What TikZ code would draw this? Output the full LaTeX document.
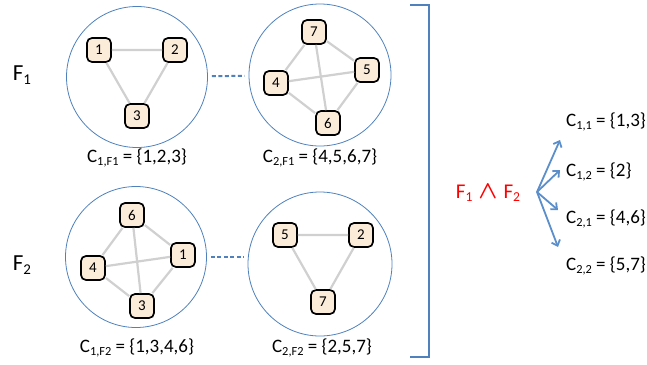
\documentclass[tikz,border=0pt]{standalone}
\usepackage{fontspec}
\usepackage{amsmath}
\setmainfont{Carlito}
\usetikzlibrary{arrows.meta}
\definecolor{ringblue}{HTML}{4F81BD}
\definecolor{arrowblue}{HTML}{5B8FCB}
\definecolor{vertfill}{HTML}{FBEBD9}
\definecolor{tiegray}{HTML}{D0D0D0}
\newcommand\csub[1]{\raisebox{-0.35ex}{\scalebox{0.65}{#1}}}

\begin{document}
\begin{tikzpicture}[x=1pt,y=-1pt,
  vert/.style={draw=black, line width=1.7pt, fill=vertfill, rounded corners=5pt,
    minimum size=24pt, inner sep=0pt, font=\fontsize{15}{15}\selectfont},
  ring/.style={draw=ringblue, line width=0.8pt, circle, minimum size=#1, inner sep=0pt},
  tie/.style={draw=tiegray, line width=2.2pt},
  link/.style={draw=ringblue, line width=2pt, dash pattern=on 4pt off 2.5pt, shorten <=4pt, shorten >=4pt},
  lbl/.style={font=\fontsize{19}{19}\selectfont, inner sep=0pt},
  fam/.style={font=\fontsize{23}{23}\selectfont, inner sep=0pt},
  split/.style={draw=arrowblue, line width=1.8pt, -{Straight Barb[length=5pt,width=9pt]}}]
\useasboundingbox (0,0) rectangle (647,364);
% F1 clusters:
\node[ring=141pt] (ra) at (137,77) {};
\node[ring=142pt] (rb) at (320,75) {};
\draw[link] (ra) -- (rb);
\node[vert] (a1) at (99,50) {1};
\node[vert] (a2) at (175,50) {2};
\node[vert] (a3) at (137,116) {3};
\draw[tie] (a1) -- (a2) (a1) -- (a3) (a2) -- (a3);
\node[vert] (b7) at (314,32) {7};
\node[vert] (b5) at (367,70) {5};
\node[vert] (b4) at (276,83) {4};
\node[vert] (b6) at (328,123) {6};
\draw[tie] (b7) -- (b4) (b7) -- (b6) (b7) -- (b5) (b4) -- (b5) (b4) -- (b6) (b5) -- (b6);
% F2 clusters:
\node[ring=141pt] (rc) at (136,257) {};
\node[ring=144pt] (rd) at (320,264) {};
\draw[link] (rc.east) -- (rd.west |- rc.east);
\node[vert] (c6) at (132,215) {6};
\node[vert] (c1) at (183,255) {1};
\node[vert] (c4) at (93,268) {4};
\node[vert] (c3) at (142,306) {3};
\draw[tie] (c6) -- (c4) (c6) -- (c3) (c6) -- (c1) (c4) -- (c1) (c4) -- (c3) (c1) -- (c3);
\node[vert] (d5) at (285,235) {5};
\node[vert] (d2) at (361,235) {2};
\node[vert] (d7) at (323,302) {7};
\draw[tie] (d5) -- (d2) (d5) -- (d7) (d2) -- (d7);
% cluster labels:
\node[lbl] (la) at (137,158) {C\csub{1,F1} = \{1,2,3\}};
\node[lbl] (lb) at (320,158) {C\csub{2,F1} = \{4,5,6,7\}};
\node[lbl] (lc) at (137,348) {C\csub{1,F2} = \{1,3,4,6\}};
\node[lbl] (ld) at (322,348) {C\csub{2,F2} = \{2,5,7\}};
\node[fam] (f1) at (22,75) {F\csub{1}};
\node[fam] (f2) at (22,265) {F\csub{2}};
% bracket:
\draw[ringblue, line width=2.6pt] (410,5) -- (429,5) -- (429,357) -- (410,357);
% conjunction:
\node[fam, red, font=\fontsize{21}{21}\selectfont] (conj) at (488,193)
  {F\csub{1}\hspace{6pt}{\fontsize{32}{32}\selectfont$\boldsymbol{\wedge}$}\hspace{6pt}F\csub{2}};
\node[lbl, anchor=west] (c11) at (566,122) {C\csub{1,1} = \{1,3\}};
\node[lbl, anchor=west] (c12) at (566,172) {C\csub{1,2} = \{2\}};
\node[lbl, anchor=west] (c21) at (566,219) {C\csub{2,1} = \{4,6\}};
\node[lbl, anchor=west] (c22) at (566,266) {C\csub{2,2} = \{5,7\}};
\coordinate (fork) at (537,192);
\coordinate (t11) at (560,140);
\coordinate (t12) at (560,170);
\coordinate (t21) at (558,210);
\coordinate (t22) at (558,247);
\draw[split] (fork) -- (t11);
\draw[split] (fork) -- (t12);
\draw[split] (fork) -- (t21);
\draw[split] (fork) -- (t22);
\end{tikzpicture}
\end{document}
